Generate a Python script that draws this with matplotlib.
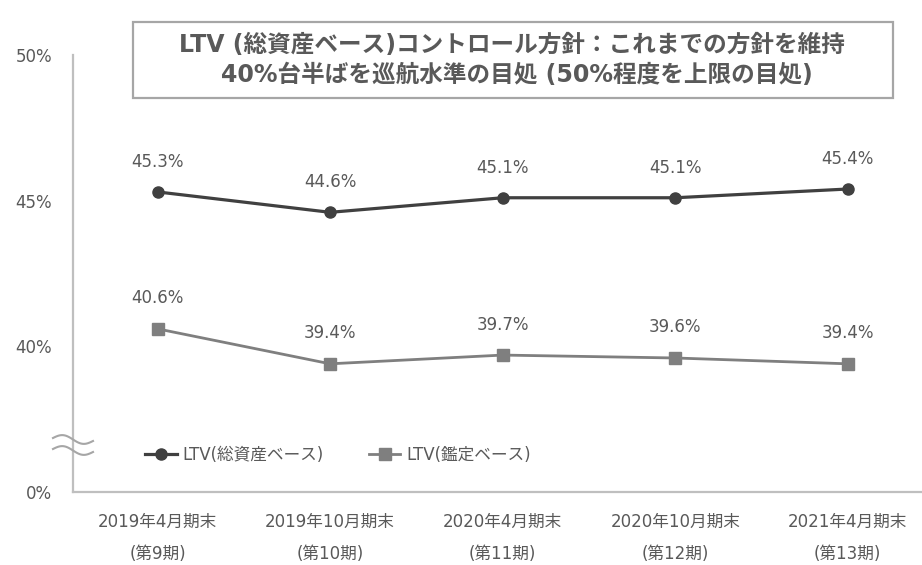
import numpy as np
import matplotlib
matplotlib.use("Agg")
import matplotlib.pyplot as plt
from matplotlib.lines import Line2D

plt.rcParams['font.family'] = ['DejaVu Sans', 'Noto Sans CJK JP']

# Data
periods = ["2019年4月期末\n(第9期)", "2019年10月期末\n(第10期)", "2020年4月期末\n(第11期)",
           "2020年10月期末\n(第12期)", "2021年4月期末\n(第13期)"]
ltv_total = [45.3, 44.6, 45.1, 45.1, 45.4]       # LTV(総資産ベース)
ltv_appraisal = [40.6, 39.4, 39.7, 39.6, 39.4]   # LTV(鑑定ベース)
ytick_values = [35, 40, 45, 50]                  # 35 is drawn as the broken-axis 0%
ytick_labels = ["0%", "40%", "45%", "50%"]
title_lines = ["LTV (総資産ベース)コントロール方針：これまでの方針を維持",
               "40%台半ばを巡航水準の目処 (50%程度を上限の目処)"]

TEXT = "#595959"
DARK = "#404040"
GRAY = "#7f7f7f"
SPINE = "#bfbfbf"

W, H = 922, 565
fig = plt.figure(figsize=(W / 100, H / 100), dpi=100)
ax = fig.add_axes([73 / W, 1 - 492 / H, 1 - 73 / W, (492 - 55) / H])

x = np.arange(len(periods))
ax.plot(x, ltv_total, color=DARK, lw=2.3, marker="o", ms=8, label="LTV(総資産ベース)", zorder=3)
ax.plot(x, ltv_appraisal, color=GRAY, lw=2.0, marker="s", ms=8.5, label="LTV(鑑定ベース)", zorder=3)

for xi, v in zip(x, ltv_total):
    ax.annotate(f"{v:.1f}%", (xi, v), xytext=(0, 21.5), textcoords="offset points",
                ha="center", va="center", fontsize=12, color=TEXT)
for xi, v in zip(x, ltv_appraisal):
    ax.annotate(f"{v:.1f}%", (xi, v), xytext=(0, 22), textcoords="offset points",
                ha="center", va="center", fontsize=12, color=TEXT)

ax.set_xlim(-0.49, 4.43)
ax.set_ylim(35, 50)
ax.set_yticks(ytick_values)
ax.set_yticklabels(ytick_labels, fontsize=12, color=TEXT)
ax.set_xticks(x)
ax.set_xticklabels(periods, fontsize=12, color=TEXT, linespacing=2.0)
ax.tick_params(axis="both", length=0)
ax.tick_params(axis="y", pad=15)
ax.tick_params(axis="x", pad=15)
for s in ["top", "right"]:
    ax.spines[s].set_visible(False)
for s in ["left", "bottom"]:
    ax.spines[s].set_color(SPINE)
    ax.spines[s].set_linewidth(1.6)

# Axis-break marks (two tildes across the y axis)
t = np.linspace(0, 1, 60)
for yc in (438, 449):
    xs = (53 + 40 * t) / W
    ys = 1 - (yc + 3 * t - 4 * np.sin(2 * np.pi * t) * 0.9) / H
    fig.add_artist(Line2D(xs, ys, color="#a6a6a6", lw=1.5, transform=fig.transFigure))

leg = ax.legend(loc="center left", bbox_to_anchor=(145 / W, 1 - 455 / H),
                bbox_transform=fig.transFigure, ncol=2, frameon=False, fontsize=12,
                handlelength=1.9, handletextpad=0.35, columnspacing=2.7, borderpad=0,
                borderaxespad=0)
for txt in leg.get_texts():
    txt.set_color(TEXT)

# Title box
box = plt.Rectangle((133 / W, 1 - 98 / H), (893 - 133) / W, (98 - 22) / H,
                    transform=fig.transFigure, fill=False, edgecolor="#a6a6a6", lw=1.6)
fig.add_artist(box)
fig.text(512 / W, 1 - 45 / H, title_lines[0], ha="center", va="center",
         fontsize=17, fontweight="bold", color=TEXT)
fig.text(517 / W, 1 - 75 / H, title_lines[1], ha="center", va="center",
         fontsize=17, fontweight="bold", color=TEXT)

fig.savefig("out.png", dpi=100)
